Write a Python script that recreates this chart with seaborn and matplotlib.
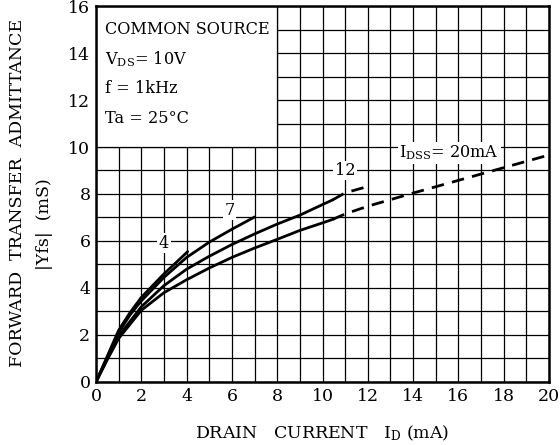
import matplotlib
matplotlib.use("Agg")
import matplotlib.pyplot as plt
import seaborn as sns
import pandas as pd
from matplotlib.patches import Rectangle

# ---- data ----
x_i4 = [0, 0.5, 1, 1.5, 2, 2.5, 3, 3.5, 4.05]
y_i4 = [0, 1.1, 2.2, 2.95, 3.6, 4.1, 4.6, 5.05, 5.55]

x_i7 = [0, 0.5, 1, 1.5, 2, 3, 4, 5, 6, 7]
y_i7 = [0, 1.05, 2.1, 2.85, 3.45, 4.45, 5.3, 5.95, 6.5, 7.02]

x_i12 = [0, 0.5, 1, 2, 3, 4, 5, 6, 7, 8, 9, 10, 10.45]
y_i12 = [0, 1.0, 1.95, 3.2, 4.1, 4.8, 5.35, 5.85, 6.3, 6.72, 7.1, 7.55, 7.75]
x_i12_ext = [10.45, 11, 12]
y_i12_ext = [7.75, 8.05, 8.32]

x_i20 = [0, 0.5, 1, 2, 3, 4, 5, 6, 7, 8, 9, 10, 10.45]
y_i20 = [0, 0.95, 1.85, 3.05, 3.8, 4.35, 4.85, 5.3, 5.7, 6.07, 6.45, 6.77, 6.92]
x_i20_ext = [10.45, 11, 12, 14, 16, 18, 20]
y_i20_ext = [6.92, 7.15, 7.48, 8.04, 8.58, 9.12, 9.66]

x_ticks = [0, 2, 4, 6, 8, 10, 12, 14, 16, 18, 20]
y_ticks = [0, 2, 4, 6, 8, 10, 12, 14, 16]

sns.set_theme(style="white")
plt.rcParams['font.family'] = ['DejaVu Serif']
plt.rcParams['mathtext.fontset'] = 'dejavuserif'

fig = plt.figure(figsize=(5.6, 4.45), dpi=100)
ax = fig.add_axes([0.1714, 0.1416, 0.8090, 0.8449])

solid = [(x_i4, y_i4), (x_i7, y_i7), (x_i12, y_i12), (x_i20, y_i20)]
dashed = [(x_i12_ext, y_i12_ext), (x_i20_ext, y_i20_ext)]

for xs, ys in solid:
    df = pd.DataFrame({"x": xs, "y": ys})
    sns.lineplot(data=df, x="x", y="y", ax=ax, color="black", lw=2.0,
                 sort=False, estimator=None, zorder=5)
for xs, ys in dashed:
    df = pd.DataFrame({"x": xs, "y": ys})
    sns.lineplot(data=df, x="x", y="y", ax=ax, color="black", lw=2.0,
                 sort=False, estimator=None, zorder=5)
    ax.lines[-1].set_dashes([4.5, 3.0])

ax.set_xlim(0, 20)
ax.set_ylim(0, 16)
ax.set_xticks(x_ticks)
ax.set_yticks(y_ticks)
ax.set_xticks(range(0, 21), minor=True)
ax.set_yticks(range(0, 17), minor=True)
ax.set_xticklabels([str(v) for v in x_ticks], fontsize=12.5)
ax.set_yticklabels([str(v) for v in y_ticks], fontsize=12.5)
ax.tick_params(axis="both", which="both", length=0, pad=4, colors="black")
ax.set_axisbelow(True)
ax.grid(True, which="both", color="black", lw=0.9)
for s in ax.spines.values():
    s.set_visible(True)
    s.set_color("black")
    s.set_linewidth(1.8)
    s.set_zorder(6)

ax.set_xlabel("")
ax.set_ylabel("")

# white box for conditions
ax.add_patch(Rectangle((0, 10), 8, 6, facecolor="white", edgecolor="black",
                       lw=0.9, zorder=1))
tx = dict(fontsize=11.6, color="black", zorder=7, va="center", ha="left")
ax.text(0.4, 15.0, "COMMON SOURCE", **tx)
ax.text(0.4, 13.75, r"V$_{\mathrm{DS}}$= 10V", **tx)
ax.text(0.4, 12.5, "f = 1kHz", **tx)
ax.text(0.4, 11.2, "Ta = 25°C", **tx)

lb = dict(fontsize=11.6, color="black", zorder=7, va="center", ha="center",
          bbox=dict(facecolor="white", edgecolor="none", pad=1))
ax.text(3.0, 5.9, "4", **lb)
ax.text(5.9, 7.3, "7", **lb)
ax.text(11.0, 9.0, "12", **lb)
ax.text(15.6, 9.75, r"I$_{\mathrm{DSS}}$= 20mA", **lb)

fig.text(0.032, 0.566, "FORWARD  TRANSFER  ADMITTANCE", rotation=90,
         fontsize=12.5, ha="center", va="center", color="black")
fig.text(0.080, 0.497, "|Yfs|  (mS)", rotation=90,
         fontsize=12.5, ha="center", va="center", color="black")
fig.text(0.576, 0.027, r"DRAIN   CURRENT   I$_{\mathrm{D}}$ (mA)",
         fontsize=12.5, ha="center", va="center", color="black")

fig.savefig("out.png", dpi=100)
